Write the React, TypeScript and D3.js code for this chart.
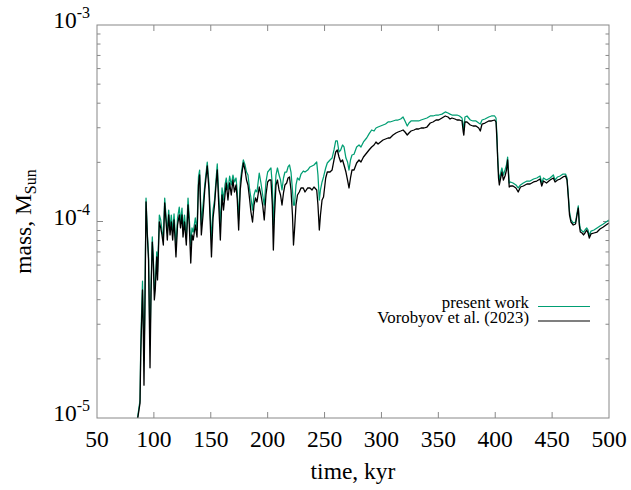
import React from "react";
import * as d3 from "d3";

// mass values are given in units of 1e-4 solar masses
const MASS_UNIT = 1e-4;

const timeKyr = [
  85.6, 87.8, 88.4, 88.9, 90.0, 90.7, 91.3, 92.0, 93.1, 94.2,
  95.3, 96.6, 97.5, 98.6, 99.5, 100.4, 101.2, 102.5, 103.2, 104.8,
  106.0, 107.1, 108.3, 109.5, 110.6, 111.8, 113.0, 114.2, 115.3, 116.5,
  117.7, 119.4, 120.8, 122.3, 123.4, 124.7, 125.6, 126.9, 128.5, 130.0,
  131.1, 132.4, 133.5, 134.6, 136.4, 137.9, 139.2, 140.2, 141.7, 143.2,
  144.7, 146.9, 148.4, 149.6, 150.6, 152.0, 153.3, 154.6, 155.7, 157.0,
  158.4, 159.9, 161.2, 162.5, 163.6, 165.1, 166.6, 168.0, 169.5, 170.8,
  172.2, 173.3, 174.5, 175.9, 177.2, 178.6, 180.1, 181.4, 182.7, 184.2,
  185.3, 186.7, 188.0, 189.3, 190.6, 192.6, 194.1, 195.6, 197.0, 198.5,
  200.0, 201.4, 202.9, 204.1, 205.0, 206.0, 207.3, 208.6, 210.0, 211.3,
  212.6, 213.9, 215.2, 216.7, 217.9, 219.2, 220.5, 221.8, 222.7, 223.6,
  224.9, 226.2, 227.8, 229.3, 231.3, 232.8, 235.2, 237.2, 239.0, 240.7,
  243.1, 244.2, 245.4, 246.4, 247.8, 249.1, 251.0, 252.4, 254.8, 256.6,
  258.3, 259.8, 261.2, 262.7, 264.2, 265.8, 267.1, 268.8, 270.2, 271.5,
  272.8, 274.1, 275.9, 278.2, 280.3, 282.0, 284.2, 287.0, 289.1, 291.4,
  293.5, 295.2, 297.0, 299.2, 301.4, 303.6, 305.8, 307.5, 310.2, 312.8,
  314.6, 316.9, 319.0, 320.7, 322.7, 324.2, 326.0, 328.6, 330.4, 332.7,
  334.8, 337.4, 340.0, 342.9, 345.3, 348.0, 350.3, 353.2, 356.1, 358.5,
  360.3, 362.0, 364.6, 366.4, 368.6, 370.8, 371.9, 372.4, 373.4, 375.2,
  378.1, 380.5, 383.1, 385.5, 386.9, 388.4, 391.0, 394.3, 396.7, 399.5,
  400.7, 401.5, 402.2, 402.9, 403.6, 404.8, 405.9, 407.2, 408.6, 409.9,
  410.9, 412.3, 413.4, 415.6, 418.2, 420.2, 422.2, 424.7, 427.9, 430.6,
  433.7, 436.5, 439.4, 440.9, 442.4, 445.1, 448.2, 451.1, 452.6, 454.8,
  457.0, 459.6, 461.8, 463.1, 464.3, 465.3, 466.6, 468.6, 470.6, 471.9,
  473.0, 473.9, 474.8, 476.3, 477.6, 478.9, 480.4, 481.6, 482.7, 484.2,
  486.8, 489.5, 492.1, 495.0, 497.4, 500.0,
];

const massVorobyov2023 = [
  0.098, 0.119, 0.204, 0.265, 0.448, 0.281, 0.147, 0.315, 1.257, 0.854,
  0.637, 0.18, 0.433, 0.786, 0.622, 0.399, 0.448, 0.66, 0.504, 0.994,
  0.927, 0.854, 0.759, 1.242, 1.018, 0.805, 1.079, 0.854, 0.994, 0.805,
  1.018, 0.66, 0.96, 1.079, 0.927, 1.079, 0.834, 0.994, 0.759, 1.213,
  0.96, 0.615, 0.854, 0.805, 0.96, 0.834, 1.534, 1.724, 0.854, 1.079,
  1.447, 1.917, 1.447, 0.96, 0.66, 1.042, 1.213, 1.534, 1.828, 1.213,
  0.805, 1.364, 1.144, 1.364, 1.57, 1.286, 1.57, 1.364, 1.626, 1.413,
  1.534, 1.286, 0.905, 1.447, 1.724, 1.985, 1.828, 1.626, 1.534, 1.286,
  1.118, 0.994, 1.213, 1.317, 1.257, 1.498, 1.364, 1.213, 1.018, 1.364,
  1.589, 1.626, 1.626, 1.213, 0.716, 1.079, 1.534, 1.626, 1.447, 1.364,
  1.213, 1.397, 1.534, 1.57, 1.665, 1.685, 1.447, 1.079, 0.759, 0.905,
  1.213, 1.364, 1.413, 1.481, 1.481, 1.413, 1.481, 1.481, 1.447, 1.498,
  1.447, 1.213, 0.905, 1.079, 1.286, 1.332, 1.665, 1.786, 1.786, 1.828,
  2.056, 2.258, 2.312, 2.129, 2.008, 2.056, 1.939, 1.786, 1.626, 1.481,
  1.665, 1.828, 1.828, 1.985, 2.056, 2.008, 2.129, 2.232, 2.312, 2.395,
  2.451, 2.539, 2.48, 2.539, 2.599, 2.63, 2.66, 2.66, 2.755, 2.821,
  2.854, 2.888, 2.922, 2.854, 2.755, 2.821, 2.888, 2.922, 2.956, 2.956,
  2.991, 2.991, 3.026, 3.171, 3.209, 3.285, 3.285, 3.363, 3.443, 3.403,
  3.324, 3.363, 3.324, 3.285, 3.285, 3.247, 2.854, 2.755, 3.209, 3.209,
  3.098, 3.062, 3.062, 2.991, 2.888, 3.134, 3.171, 3.247, 3.247, 3.285,
  3.209, 2.599, 2.056, 1.665, 1.534, 1.665, 1.786, 1.626, 1.704, 1.828,
  2.056, 1.498, 1.516, 1.516, 1.481, 1.413, 1.498, 1.516, 1.552, 1.552,
  1.589, 1.607, 1.645, 1.516, 1.607, 1.57, 1.626, 1.665, 1.589, 1.626,
  1.645, 1.685, 1.704, 1.626, 1.317, 1.079, 0.994, 0.96, 0.971, 1.079,
  1.171, 0.96, 0.884, 0.874, 0.854, 0.874, 0.905, 0.874, 0.824, 0.864,
  0.874, 0.884, 0.916, 0.938, 0.96, 0.983,
];

const massPresentWork = [
  0.1, 0.123, 0.222, 0.297, 0.497, 0.315, 0.197, 0.354, 1.317, 0.884,
  0.675, 0.235, 0.475, 0.834, 0.65, 0.448, 0.475, 0.70, 0.553, 1.079,
  1.018, 0.905, 0.805, 1.317, 1.079, 0.874, 1.144, 0.927, 1.079, 0.884,
  1.092, 0.759, 1.042, 1.185, 0.994, 1.171, 0.905, 1.079, 0.824, 1.317,
  1.042, 0.759, 0.927, 0.884, 1.042, 0.905, 1.685, 1.828, 0.96, 1.213,
  1.534, 2.008, 1.57, 1.079, 0.805, 1.144, 1.286, 1.626, 1.962, 1.364,
  0.96, 1.481, 1.286, 1.534, 1.665, 1.447, 1.704, 1.534, 1.724, 1.589,
  1.665, 1.413, 1.018, 1.589, 1.828, 2.056, 1.939, 1.786, 1.724, 1.447,
  1.317, 1.144, 1.364, 1.447, 1.413, 1.765, 1.57, 1.364, 1.213, 1.589,
  1.786, 1.828, 1.872, 1.534, 0.96, 1.286, 1.724, 1.872, 1.724, 1.626,
  1.447, 1.665, 1.786, 1.786, 1.894, 1.939, 1.786, 1.447, 1.213, 1.213,
  1.534, 1.665, 1.626, 1.744, 1.807, 1.786, 1.828, 1.894, 1.917, 1.939,
  2.008, 1.724, 1.286, 1.447, 1.589, 1.685, 1.872, 1.985, 2.056, 2.104,
  2.312, 2.569, 2.569, 2.258, 2.312, 2.451, 2.395, 2.104, 2.008, 1.828,
  2.056, 2.180, 2.2, 2.395, 2.451, 2.395, 2.539, 2.66, 2.79, 2.922,
  2.888, 2.991, 3.026, 3.062, 3.098, 3.134, 3.209, 3.209, 3.247, 3.285,
  3.285, 3.324, 3.403, 3.247, 3.062, 3.171, 3.247, 3.247, 3.247, 3.247,
  3.285, 3.324, 3.363, 3.443, 3.443, 3.483, 3.483, 3.52, 3.61, 3.567,
  3.52, 3.483, 3.483, 3.483, 3.443, 3.363, 3.098, 2.922, 3.403, 3.443,
  3.285, 3.247, 3.247, 3.171, 3.134, 3.285, 3.324, 3.403, 3.443, 3.443,
  3.363, 2.755, 2.104, 1.786, 1.626, 1.765, 1.872, 1.724, 1.828, 1.939,
  2.129, 1.57, 1.589, 1.57, 1.534, 1.481, 1.534, 1.57, 1.607, 1.607,
  1.645, 1.665, 1.704, 1.57, 1.665, 1.626, 1.665, 1.724, 1.626, 1.685,
  1.704, 1.744, 1.744, 1.665, 1.348, 1.118, 1.018, 0.983, 0.994, 1.105,
  1.2, 0.994, 0.916, 0.894, 0.884, 0.905, 0.927, 0.905, 0.844, 0.894,
  0.905, 0.927, 0.949, 0.971, 0.994, 1.018,
];

const xTickValues = [50, 100, 150, 200, 250, 300, 350, 400, 450, 500];
const yDecadeTicks = [1e-5, 1e-4, 1e-3];
const yTickExponents = ["-5", "-4", "-3"];
const legendLabels = ["present work", "Vorobyov et al. (2023)"];

const GREEN = "#009e73";
const FRAME = "#888888";
const FONT = "'Liberation Serif', 'Times New Roman', serif";

export default function App() {
  const W = 631;
  const H = 490;
  const L = 97, R = 609, T = 25, B = 418;

  const x = d3.scaleLinear().domain([50, 500]).range([L, R]);
  const y = d3.scaleLog().domain([1e-5, 1e-3]).range([B, T]);

  const mkLine = (vals: number[]) =>
    d3
      .line<number>()
      .x((_, i) => x(timeKyr[i]))
      .y((d) => y(d * MASS_UNIT))(vals.slice(0, timeKyr.length)) || "";

  const minorY: number[] = [];
  [1e-5, 1e-4].forEach((dec) => {
    for (let k = 2; k <= 9; k++) minorY.push(dec * k);
  });

  const majorLen = 6;
  const minorLen = 3.5;

  return (
    <svg
      width={W}
      height={H}
      style={{ position: "absolute", left: 0, top: 0, background: "#fff" }}
      fontFamily={FONT}
    >
      <rect x={0} y={0} width={W} height={H} fill="#fff" />
      <defs>
        <clipPath id="plotclip">
          <rect x={L} y={T} width={R - L} height={B - T} />
        </clipPath>
      </defs>

      {/* ticks */}
      <g stroke={FRAME} strokeWidth={1}>
        {xTickValues.slice(1, -1).map((v) => (
          <g key={"xt" + v}>
            <line x1={x(v)} x2={x(v)} y1={B} y2={B - majorLen} />
            <line x1={x(v)} x2={x(v)} y1={T} y2={T + majorLen} />
          </g>
        ))}
        {yDecadeTicks.slice(1, -1).map((v) => (
          <g key={"yt" + v}>
            <line x1={L} x2={L + majorLen} y1={y(v)} y2={y(v)} />
            <line x1={R} x2={R - majorLen} y1={y(v)} y2={y(v)} />
          </g>
        ))}
        {minorY.map((v) => (
          <g key={"ym" + v}>
            <line x1={L} x2={L + minorLen} y1={y(v)} y2={y(v)} />
            <line x1={R} x2={R - minorLen} y1={y(v)} y2={y(v)} />
          </g>
        ))}
      </g>

      {/* curves */}
      <g clipPath="url(#plotclip)" fill="none" strokeLinejoin="round">
        <path d={mkLine(massPresentWork)} stroke={GREEN} strokeWidth={1.25} />
        <path d={mkLine(massVorobyov2023)} stroke="#000" strokeWidth={1.3} />
      </g>

      {/* frame */}
      <rect x={L} y={T} width={R - L} height={B - T} fill="none" stroke={FRAME} strokeWidth={1} />

      {/* x tick labels */}
      <g fontSize={23.5} textAnchor="middle" fill="#000">
        {xTickValues.map((v) => (
          <text key={"xl" + v} x={x(v)} y={447}>
            {v}
          </text>
        ))}
      </g>

      {/* y tick labels */}
      <g fill="#000">
        {yDecadeTicks.map((v, i) => (
          <text key={"yl" + v} x={90} y={y(v) + 3} textAnchor="end" fontSize={23.5}>
            <tspan>10</tspan>
            <tspan fontSize={16} dy={-10}>
              {yTickExponents[i]}
            </tspan>
          </text>
        ))}
      </g>

      {/* axis titles */}
      <text x={(L + R) / 2} y={479} textAnchor="middle" fontSize={23.5} fill="#000">
        time, kyr
      </text>
      <text
        transform={`translate(31, ${(T + B) / 2}) rotate(-90)`}
        textAnchor="middle"
        fontSize={23.5}
        fill="#000"
      >
        mass, M
        <tspan fontSize={16} dy={5}>
          Sun
        </tspan>
      </text>

      {/* legend */}
      <g fontSize={16.8} fill="#000">
        <text x={529} y={308} textAnchor="end">
          {legendLabels[0]}
        </text>
        <line x1={538} x2={590} y1={306.5} y2={306.5} stroke={GREEN} strokeWidth={1.2} />
        <text x={529} y={322.5} textAnchor="end">
          {legendLabels[1]}
        </text>
        <line x1={538} x2={590} y1={321} y2={321} stroke="#000" strokeWidth={1.2} />
      </g>
    </svg>
  );
}
